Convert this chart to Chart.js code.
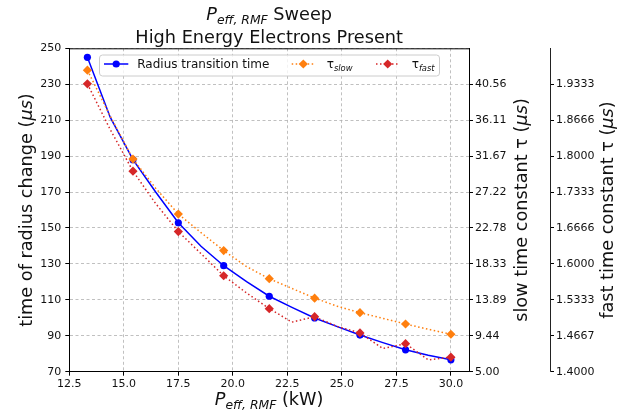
<!DOCTYPE html>
<html lang="en">
<head>
    <meta charset="UTF-8">
    <title>P_eff,RMF Sweep</title>
    <script src="https://cdn.jsdelivr.net/npm/chart.js"></script>
    <style>
        body {
            margin: 0;
            background: #fff;
        }

        #wrap {
            width: 633px;
            height: 416px;
            position: relative;
        }
    </style>
</head>
<body>
    <div id="wrap"><canvas id="sweepChart"></canvas></div>

    <script type="text/javascript">
        // values (markers on every other point)
        const powerKw = [13.33, 14.38, 15.42, 16.46, 17.50, 18.54, 19.58, 20.63, 21.67, 22.71, 23.75, 24.79, 25.83, 26.88, 27.92, 28.96, 30.00];
        const radiusTime = [245.0, 211.5, 188.0, 170.0, 152.9, 139.8, 129.0, 120.2, 112.0, 105.8, 99.9, 95.1, 90.4, 86.2, 82.2, 79.2, 76.6];
        const tauSlow = [42.3, 36.6, 31.3, 27.7, 24.5, 22.2, 19.98, 18.0, 16.5, 15.3, 14.1, 13.1, 12.3, 11.6, 10.9, 10.25, 9.63];
        const tauFast = [1.934, 1.849, 1.772, 1.712, 1.660, 1.619, 1.578, 1.546, 1.517, 1.492, 1.502, 1.484, 1.472, 1.443, 1.452, 1.422, 1.427];

        const slowTicks = [5.0, 9.444, 13.889, 18.333, 22.778, 27.222, 31.667, 36.111, 40.556];
        const slowTickLabels = ['5.00', '9.44', '13.89', '18.33', '22.78', '27.22', '31.67', '36.11', '40.56'];
        const fastTicks = [1.4, 1.4667, 1.5333, 1.6, 1.6667, 1.7333, 1.8, 1.8667, 1.9333];
        const fastTickLabels = ['1.4000', '1.4667', '1.5333', '1.6000', '1.6666', '1.7333', '1.8000', '1.8666', '1.9333'];

        const FONT = "'DejaVu Sans', sans-serif";
        const BIG = 17.7;
        const TXT = '#111';

        function toPoints(ys) {
            return powerKw.map((x, i) => ({ x: x, y: ys[i] }));
        }

        function everyOther(r) {
            return ctx => (ctx.dataIndex % 2 === 0 ? r : 0);
        }

        // draws a list of {t, it, sub} pieces, centred on x (after rotation)
        function drawRich(ctx, parts, x, y, size, rot) {
            ctx.save();
            ctx.translate(x, y);
            ctx.rotate(rot || 0);
            ctx.fillStyle = TXT;
            ctx.textBaseline = 'alphabetic';
            ctx.textAlign = 'left';
            const fontOf = p => (p.it ? 'italic ' : '') + (p.sub ? size * 0.7 : size) + 'px ' + FONT;
            let w = 0;
            parts.forEach(p => { ctx.font = fontOf(p); w += ctx.measureText(p.t).width; });
            let cx = -w / 2;
            parts.forEach(p => {
                ctx.font = fontOf(p);
                ctx.fillText(p.t, cx, p.sub ? size * 0.24 : 0);
                cx += ctx.measureText(p.t).width;
            });
            ctx.restore();
        }

        function diamond(ctx, x, y, r, color) {
            ctx.beginPath();
            ctx.moveTo(x, y - r);
            ctx.lineTo(x + r, y);
            ctx.lineTo(x, y + r);
            ctx.lineTo(x - r, y);
            ctx.closePath();
            ctx.fillStyle = color;
            ctx.fill();
        }

        const textPlugin = {
            id: 'richText',
            afterDatasetsDraw(chart) {
                const ctx = chart.ctx;
                const a = chart.chartArea;
                // top spine
                ctx.save();
                ctx.strokeStyle = '#000';
                ctx.lineWidth = 1;
                ctx.beginPath();
                ctx.moveTo(a.left, a.top + 0.5);
                ctx.lineTo(a.right, a.top + 0.5);
                ctx.stroke();

                // legend box
                const lx = 99.5, ly = 55, lw = 340, lh = 21;
                ctx.beginPath();
                ctx.roundRect(lx, ly, lw, lh, 3);
                ctx.fillStyle = 'rgba(255,255,255,0.8)';
                ctx.fill();
                ctx.strokeStyle = '#cccccc';
                ctx.stroke();

                const my = 64;
                ctx.lineWidth = 1.5;
                ctx.strokeStyle = '#0000ff';
                ctx.beginPath();
                ctx.moveTo(104, my);
                ctx.lineTo(128.3, my);
                ctx.stroke();
                ctx.fillStyle = '#0000ff';
                ctx.beginPath();
                ctx.arc(116.2, my, 3.6, 0, Math.PI * 2);
                ctx.fill();

                ctx.setLineDash([1.5, 2.5]);
                ctx.strokeStyle = '#ff7f0e';
                ctx.beginPath();
                ctx.moveTo(291.7, my);
                ctx.lineTo(315, my);
                ctx.stroke();
                ctx.strokeStyle = '#d62728';
                ctx.beginPath();
                ctx.moveTo(376, my);
                ctx.lineTo(399.5, my);
                ctx.stroke();
                ctx.setLineDash([]);
                diamond(ctx, 303.3, my, 4.6, '#ff7f0e');
                diamond(ctx, 387.7, my, 4.6, '#d62728');

                ctx.fillStyle = TXT;
                ctx.font = '12px ' + FONT;
                ctx.textBaseline = 'alphabetic';
                ctx.fillText('Radius transition time', 137.3, 68);
                const tauW = ctx.measureText('τ').width;
                ctx.fillText('τ', 326.7, 68);
                ctx.fillText('τ', 411.7, 68);
                ctx.font = 'italic 8.4px ' + FONT;
                ctx.fillText('slow', 326.7 + tauW, 71);
                ctx.fillText('fast', 411.7 + tauW, 71);
                ctx.restore();
            },
            afterDraw(chart) {
                const ctx = chart.ctx;
                const a = chart.chartArea;
                const cx = (a.left + a.right) / 2;
                const cy = (a.top + a.bottom) / 2;
                const mu = [{ t: '(' }, { t: 'μs', it: true }, { t: ')' }];

                drawRich(ctx, [{ t: 'P', it: true }, { t: 'eff, RMF', it: true, sub: true }, { t: ' Sweep' }], cx, 20, BIG);
                drawRich(ctx, [{ t: 'High Energy Electrons Present' }], cx, 43, BIG);
                drawRich(ctx, [{ t: 'P', it: true }, { t: 'eff, RMF', it: true, sub: true }, { t: ' (kW)' }], cx, 405, BIG);

                drawRich(ctx, [{ t: 'time of radius change ' }].concat(mu), 32, cy, BIG, -Math.PI / 2);
                drawRich(ctx, [{ t: 'slow time constant τ ' }].concat(mu), 527, cy, BIG, -Math.PI / 2);
                drawRich(ctx, [{ t: 'fast time constant τ ' }].concat(mu), 613, cy, BIG, -Math.PI / 2);
            }
        };

        const gridStyle = {
            color: '#b0b0b0',
            lineWidth: 0.8,
            tickColor: '#000',
            tickLength: 4,
            tickWidth: 1,
            tickBorderDash: []
        };
        const tickFont = { family: FONT, size: 11 };

        const ctx = document.getElementById('sweepChart').getContext('2d');
        const sweepChart = new Chart(ctx, {
            type: 'line',
            data: {
                datasets: [
                    {
                        label: 'Radius transition time',
                        data: toPoints(radiusTime),
                        yAxisID: 'y',
                        borderColor: '#0000ff',
                        backgroundColor: '#0000ff',
                        borderWidth: 1.5,
                        pointRadius: everyOther(3.6),
                        pointBorderWidth: 0,
                        pointStyle: 'circle',
                        order: 2
                    },
                    {
                        label: 'τslow',
                        data: toPoints(tauSlow),
                        yAxisID: 'ySlow',
                        borderColor: '#ff7f0e',
                        backgroundColor: '#ff7f0e',
                        borderWidth: 1.5,
                        borderDash: [1.5, 2.5],
                        pointRadius: everyOther(4.6),
                        pointBorderWidth: 0,
                        pointStyle: 'rectRot',
                        order: 1
                    },
                    {
                        label: 'τfast',
                        data: toPoints(tauFast),
                        yAxisID: 'yFast',
                        borderColor: '#d62728',
                        backgroundColor: '#d62728',
                        borderWidth: 1.5,
                        borderDash: [1.5, 2.5],
                        pointRadius: everyOther(4.6),
                        pointBorderWidth: 0,
                        pointStyle: 'rectRot',
                        order: 0
                    }
                ]
            },
            options: {
                responsive: true,
                maintainAspectRatio: false,
                animation: false,
                layout: { padding: { top: 48.3, left: 0, right: 0, bottom: 0 } },
                plugins: {
                    legend: { display: false },
                    title: { display: false },
                    tooltip: { enabled: false }
                },
                scales: {
                    x: {
                        type: 'linear',
                        min: 12.5,
                        max: 30.83,
                        afterFit: s => { s.height = 44.3; },
                        border: { color: '#000', width: 1, dash: [3, 2.5] },
                        grid: gridStyle,
                        ticks: {
                            stepSize: 2.5,
                            includeBounds: false,
                            autoSkip: false,
                            maxRotation: 0,
                            padding: 2,
                            color: TXT,
                            font: tickFont,
                            callback: v => v.toFixed(1)
                        }
                    },
                    y: {
                        position: 'left',
                        min: 70,
                        max: 250,
                        afterFit: s => { s.width = 69.3; },
                        border: { color: '#000', width: 1, dash: [3, 2.5] },
                        grid: gridStyle,
                        ticks: {
                            stepSize: 20,
                            padding: 4,
                            color: TXT,
                            font: tickFont
                        }
                    },
                    ySlow: {
                        position: 'right',
                        weight: 0,
                        min: 5,
                        max: 45,
                        afterFit: s => { s.width = 81; },
                        afterBuildTicks: s => { s.ticks = slowTicks.map(v => ({ value: v })); },
                        border: { color: '#000', width: 1 },
                        grid: Object.assign({}, gridStyle, { drawOnChartArea: false }),
                        ticks: {
                            padding: 2,
                            color: TXT,
                            font: tickFont,
                            callback: (v, i) => slowTickLabels[i]
                        }
                    },
                    yFast: {
                        position: 'right',
                        weight: 1,
                        min: 1.4,
                        max: 2.0,
                        afterFit: s => { s.width = 83; },
                        afterBuildTicks: s => { s.ticks = fastTicks.map(v => ({ value: v })); },
                        border: { color: '#222', width: 1 },
                        grid: Object.assign({}, gridStyle, { drawOnChartArea: false }),
                        ticks: {
                            padding: 2,
                            color: TXT,
                            font: tickFont,
                            callback: (v, i) => fastTickLabels[i]
                        }
                    }
                }
            },
            plugins: [textPlugin]
        });
    </script>
</body>
</html>
